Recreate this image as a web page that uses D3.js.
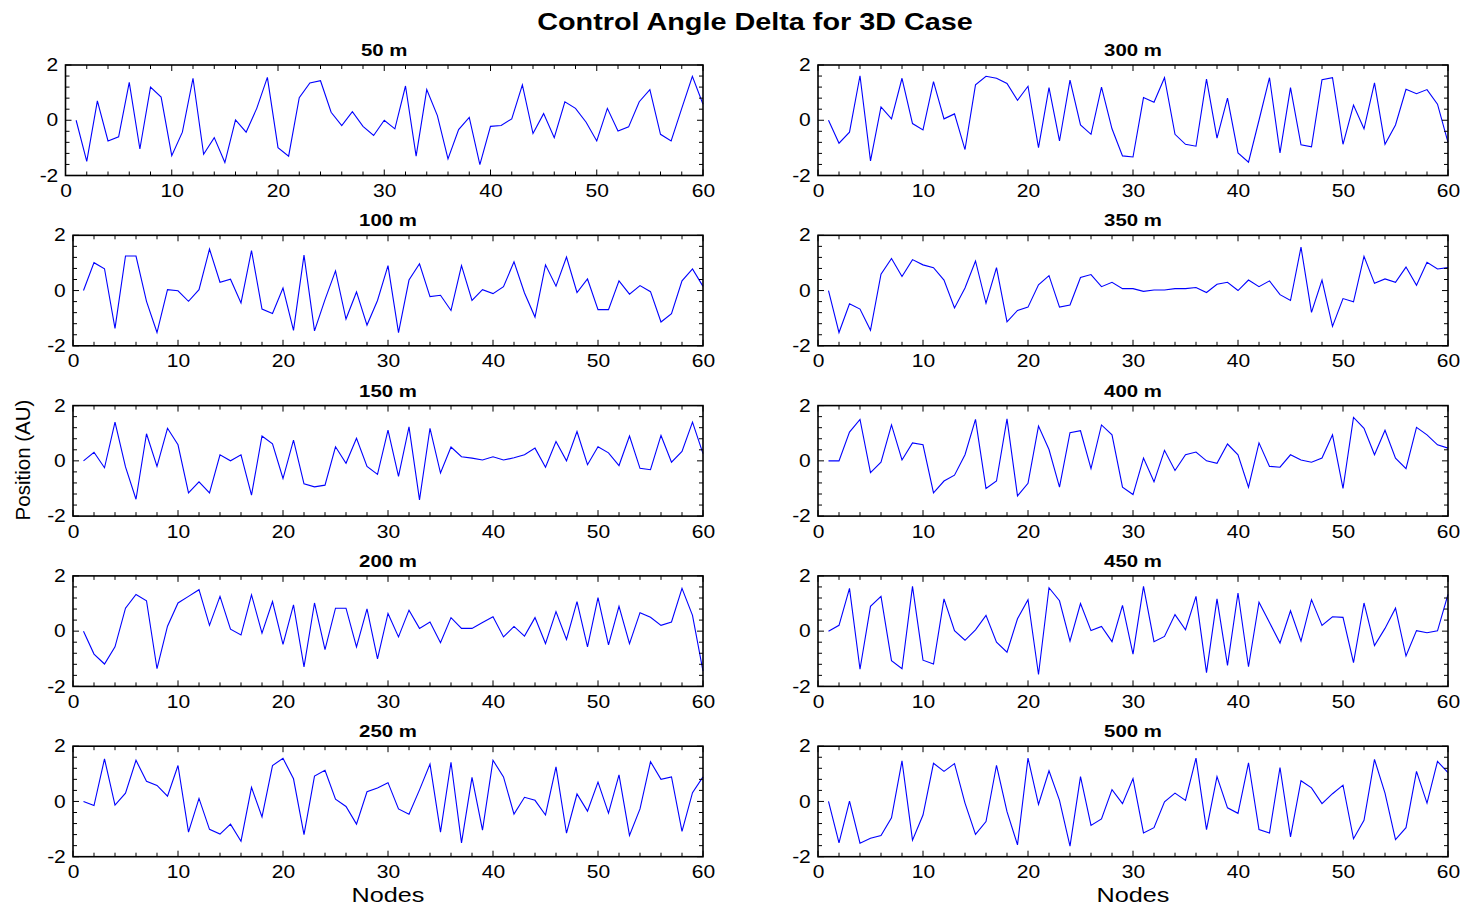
<!DOCTYPE html>
<html>
<head>
<meta charset="utf-8">
<script src="https://cdn.jsdelivr.net/npm/d3@7"></script>
<style>
  html, body { margin: 0; padding: 0; background: #fff; }
  svg { display: block; font-family: "Liberation Sans", Arial, sans-serif; }
</style>
</head>
<body>
<svg id="chart" width="1465" height="909"></svg>
<script>
// ---------------- data ----------------
const chartTitle = "Control Angle Delta for 3D Case";
const yAxisLabel = "Position (AU)";
const xAxisLabel = "Nodes";
const panelTitles = ["50 m", "100 m", "150 m", "200 m", "250 m", "300 m", "350 m", "400 m", "450 m", "500 m"];
const nodes = d3.range(1, 61);
const xTickLabels = [0, 10, 20, 30, 40, 50, 60];
const yTickLabels = [-2, 0, 2];

const s50 = [0, -1.49, 0.70, -0.75, -0.60, 1.37, -1.04, 1.20, 0.84, -1.28,
  -0.43, 1.52, -1.23, -0.63, -1.53, 0.01, -0.43, 0.43, 1.55, -0.99,
  -1.30, 0.82, 1.35, 1.43, 0.29, -0.19, 0.31, -0.22, -0.55, 0.00,
  -0.31, 1.24, -1.30, 1.11, 0.17, -1.40, -0.34, 0.10, -1.61, -0.22,
  -0.19, 0.05, 1.28, -0.48, 0.24, -0.63, 0.67, 0.43, -0.07, -0.75,
  0.43, -0.39, -0.24, 0.67, 1.11, -0.51, -0.75, 0.43, 1.59, 0.58];
const s100 = [0, 1.01, 0.79, -1.37, 1.25, 1.25, -0.39, -1.52, 0.03, -0.01,
  -0.39, 0.03, 1.50, 0.30, 0.41, -0.45, 1.45, -0.67, -0.83, 0.09,
  -1.44, 1.28, -1.46, -0.33, 0.71, -1.03, -0.05, -1.25, -0.36, 0.90,
  -1.52, 0.38, 0.97, -0.22, -0.17, -0.72, 0.90, -0.36, 0.03, -0.11,
  0.14, 1.04, -0.09, -0.96, 0.93, 0.16, 1.21, -0.07, 0.42, -0.69,
  -0.69, 0.35, -0.13, 0.18, -0.04, -1.14, -0.84, 0.35, 0.78, 0.15];
const s150 = [0, 0.31, -0.25, 1.40, -0.22, -1.39, 0.98, -0.20, 1.18, 0.58,
  -1.16, -0.76, -1.16, 0.22, 0.00, 0.22, -1.24, 0.90, 0.62, -0.64,
  0.75, -0.83, -0.94, -0.88, 0.51, -0.09, 0.82, -0.20, -0.49, 1.11,
  -0.56, 1.23, -1.41, 1.18, -0.44, 0.50, 0.15, 0.10, 0.03, 0.15,
  0.03, 0.11, 0.22, 0.46, -0.23, 0.70, 0.00, 1.06, -0.14, 0.51,
  0.29, -0.17, 0.90, -0.27, -0.32, 0.92, -0.05, 0.34, 1.40, 0.26];
const s200 = [0, -0.83, -1.19, -0.57, 0.83, 1.33, 1.10, -1.36, 0.18, 1.02,
  1.26, 1.50, 0.21, 1.26, 0.07, -0.14, 1.31, -0.07, 1.07, -0.48,
  0.95, -1.29, 1.02, -0.67, 0.83, 0.83, -0.57, 0.81, -1.00, 0.64,
  -0.21, 0.76, 0.10, 0.33, -0.42, 0.49, 0.10, 0.10, 0.31, 0.52,
  -0.21, 0.17, -0.18, 0.49, -0.45, 0.71, -0.30, 1.07, -0.57, 1.21,
  -0.50, 0.90, -0.45, 0.67, 0.50, 0.21, 0.33, 1.55, 0.57, -1.45];
const s250 = [0, -0.15, 1.54, -0.13, 0.30, 1.49, 0.73, 0.58, 0.19, 1.30,
  -1.11, 0.11, -1.01, -1.18, -0.82, -1.44, 0.51, -0.56, 1.30, 1.56,
  0.82, -1.20, 0.92, 1.13, 0.08, -0.18, -0.82, 0.35, 0.49, 0.68,
  -0.27, -0.46, 0.42, 1.35, -1.11, 1.42, -1.50, 0.87, -1.04, 1.49,
  0.89, -0.46, 0.15, 0.04, -0.49, 1.25, -1.15, 0.27, -0.35, 0.70,
  -0.42, 0.96, -1.23, -0.27, 1.44, 0.80, 0.89, -1.08, 0.32, 0.89];
const s300 = [0, -0.83, -0.43, 1.61, -1.47, 0.48, 0.05, 1.52, -0.12, -0.35,
  1.40, 0.05, 0.23, -1.06, 1.28, 1.59, 1.52, 1.33, 0.72, 1.23,
  -0.99, 1.18, -0.75, 1.45, -0.17, -0.51, 1.20, -0.31, -1.29, -1.33,
  0.82, 0.65, 1.54, -0.51, -0.87, -0.94, 1.49, -0.65, 0.80, -1.18,
  -1.52, 0.00, 1.54, -1.18, 1.18, -0.89, -0.96, 1.47, 1.54, -0.87,
  0.55, -0.31, 1.35, -0.87, -0.17, 1.12, 0.96, 1.11, 0.58, -0.80];
const s350 = [0, -1.52, -0.48, -0.67, -1.44, 0.59, 1.16, 0.51, 1.12, 0.93,
  0.83, 0.38, -0.63, 0.09, 1.07, -0.46, 0.83, -1.13, -0.72, -0.60,
  0.21, 0.54, -0.60, -0.52, 0.47, 0.58, 0.14, 0.30, 0.07, 0.07,
  -0.03, 0.02, 0.02, 0.07, 0.07, 0.11, -0.07, 0.23, 0.30, 0.00,
  0.38, 0.14, 0.35, -0.15, -0.36, 1.57, -0.79, 0.38, -1.30, -0.29,
  -0.41, 1.24, 0.26, 0.42, 0.30, 0.85, 0.19, 1.02, 0.78, 0.83];
const s400 = [0, 0, 1.04, 1.50, -0.43, -0.05, 1.30, 0.03, 0.65, 0.58,
  -1.16, -0.73, -0.52, 0.22, 1.50, -1.00, -0.73, 1.52, -1.27, -0.81,
  1.26, 0.41, -0.95, 1.02, 1.09, -0.28, 1.30, 0.94, -0.95, -1.22,
  0.10, -0.76, 0.38, -0.35, 0.22, 0.32, 0.00, -0.09, 0.61, 0.22,
  -0.95, 0.65, -0.20, -0.23, 0.22, 0.03, -0.05, 0.10, 0.94, -1.00,
  1.57, 1.18, 0.22, 1.11, 0.10, -0.28, 1.21, 0.94, 0.58, 0.46];
const s450 = [0, 0.21, 1.55, -1.38, 0.90, 1.26, -1.07, -1.36, 1.62, -1.05,
  -1.19, 1.17, 0.02, -0.33, 0.05, 0.57, -0.40, -0.76, 0.45, 1.14,
  -1.57, 1.57, 1.10, -0.36, 1.00, 0.02, 0.17, -0.38, 0.93, -0.83,
  1.62, -0.38, -0.19, 0.60, 0.05, 1.26, -1.50, 1.17, -1.24, 1.38,
  -1.29, 1.05, 0.31, -0.43, 0.74, -0.36, 1.14, 0.21, 0.52, 0.50,
  -1.14, 1.02, -0.52, 0.10, 0.83, -0.90, 0.02, -0.06, 0.01, 1.33];
const s500 = [0, -1.50, 0.01, -1.51, -1.33, -1.23, -0.59, 1.47, -1.40, -0.49,
  1.38, 1.09, 1.37, -0.06, -1.19, -0.73, 1.31, -0.37, -1.57, 1.57,
  -0.11, 1.11, 0.04, -1.62, 0.90, -0.87, -0.63, 0.43, -0.08, 0.83,
  -1.14, -0.95, -0.01, 0.30, 0.04, 1.57, -1.02, 0.90, -0.23, -0.43,
  1.40, -1.02, -1.14, 1.23, -1.28, 0.75, 0.49, -0.08, 0.28, 0.59,
  -1.35, -0.68, 1.52, 0.30, -1.38, -0.95, 1.09, -0.06, 1.45, 1.04];
const seriesList = [s50, s100, s150, s200, s250, s300, s350, s400, s450, s500];

// ---------------- layout ----------------
const svg = d3.select("#chart");
const rowTop = r => 65 + r * 170.3;
const panelH = 110.5;
const colX = [[73, 703], [818, 1448]];
const SX = 1.2; // horizontal text stretch seen in the reference

function stretchedText(parent, x, y, str) {
  return parent.append("text")
    .attr("transform", `translate(${x},${y}) scale(${SX},1)`)
    .text(str);
}

stretchedText(svg, 755, 30, chartTitle)
  .attr("text-anchor", "middle")
  .style("font-size", "24px").style("font-weight", "bold");

svg.append("text")
  .attr("transform", "translate(30,460) rotate(-90)")
  .attr("text-anchor", "middle")
  .style("font-size", "20.5px")
  .text(yAxisLabel);

[388, 1133].forEach(cx => {
  stretchedText(svg, cx, 902, xAxisLabel)
    .attr("text-anchor", "middle")
    .style("font-size", "21px");
});

const plainFormat = d => String(d); // ASCII hyphen for negatives, as in the reference

seriesList.forEach((vals, i) => {
  const col = Math.floor(i / 5), row = i % 5;
  const left = (i === 0) ? 65.5 : colX[col][0];
  const right = colX[col][1];
  const top = rowTop(row), bottom = top + panelH;

  const x = d3.scaleLinear().domain([0, 60]).range([left, right]);
  const y = d3.scaleLinear().domain([-2, 2]).range([bottom, top]);
  const g = svg.append("g");

  // panel title
  stretchedText(g, (left + right) / 2, top - 9, panelTitles[i])
    .attr("text-anchor", "middle")
    .style("font-size", "17px").style("font-weight", "bold");

  // data line
  const line = d3.line().x((d, k) => x(nodes[k])).y(d => y(d));
  g.append("path")
    .datum(vals)
    .attr("d", line)
    .attr("fill", "none")
    .attr("stroke", "#0000ff")
    .attr("stroke-width", 1.1)
    .attr("stroke-linejoin", "miter");

  // inward ticks on all sides
  const xMinor = d3.range(0, 61, 2);
  const yMinor = d3.range(-2, 2.001, 0.4).map(v => +v.toFixed(2));
  const tk = g.append("g").attr("stroke", "#000").attr("stroke-width", 1);
  xMinor.forEach(v => {
    const len = (v % 10 === 0) ? 6 : 4;
    const px = x(v);
    tk.append("line").attr("x1", px).attr("x2", px).attr("y1", bottom).attr("y2", bottom - len);
    tk.append("line").attr("x1", px).attr("x2", px).attr("y1", top).attr("y2", top + len);
  });
  yMinor.forEach(v => {
    const len = (Math.abs(v) % 2 === 0) ? 6 : 4;
    const py = y(v);
    tk.append("line").attr("y1", py).attr("y2", py).attr("x1", left).attr("x2", left + len);
    tk.append("line").attr("y1", py).attr("y2", py).attr("x1", right).attr("x2", right - len);
  });

  // frame
  g.append("rect")
    .attr("x", left).attr("y", top)
    .attr("width", right - left).attr("height", bottom - top)
    .attr("fill", "none").attr("stroke", "#000").attr("stroke-width", 1.6);

  // tick labels via d3 axes (text only)
  const xAxis = d3.axisBottom(x).tickValues(xTickLabels).tickSize(0).tickPadding(9).tickFormat(plainFormat);
  const xg = g.append("g").attr("transform", `translate(0,${bottom})`).call(xAxis);
  xg.select(".domain").remove();
  xg.selectAll("text")
    .style("font-size", "17.5px").style("font-family", "Liberation Sans, Arial, sans-serif")
    .attr("fill", "#000").attr("transform", `scale(${SX},1)`);

  const yAxis = d3.axisLeft(y).tickValues(yTickLabels).tickSize(0).tickPadding(6).tickFormat(plainFormat);
  const yg = g.append("g").attr("transform", `translate(${left},0)`).call(yAxis);
  yg.select(".domain").remove();
  yg.selectAll("text")
    .style("font-size", "17.5px").style("font-family", "Liberation Sans, Arial, sans-serif")
    .attr("fill", "#000").attr("transform", `scale(${SX},1)`);
});
</script>
</body>
</html>
